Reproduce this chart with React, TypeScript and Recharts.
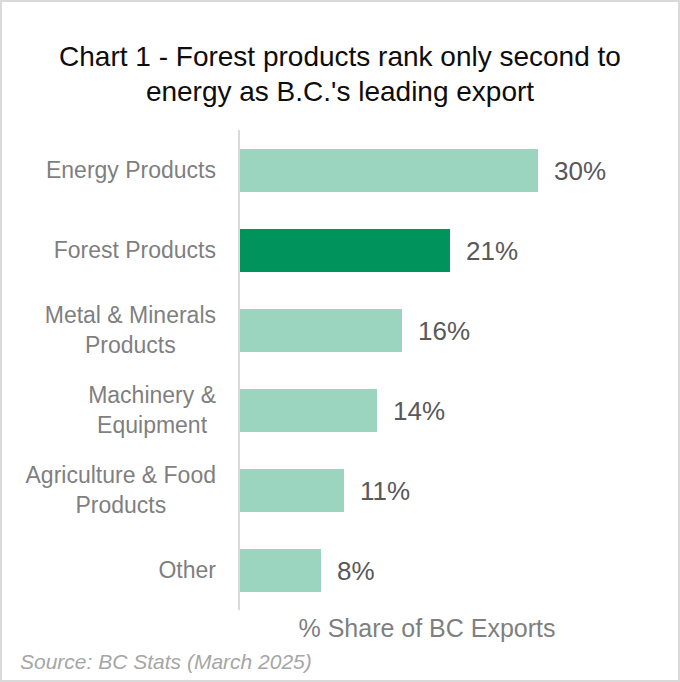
import { Bar, BarChart, Cell, LabelList, XAxis, YAxis } from "recharts";

const categories = [
  "Energy Products",
  "Forest Products",
  "Metal & Minerals\nProducts",
  "Machinery &\nEquipment",
  "Agriculture & Food\nProducts",
  "Other",
];
const shares = [29.9, 21.1, 16.3, 13.8, 10.5, 8.2];
const highlight = "Forest Products";

const data = categories.map((name, i) => ({ name, share: shares[i] }));

const FONT = "'Liberation Sans', Arial, sans-serif";
const LIGHT = "#9bd4bf";
const DARK = "#00945d";

let ctx: CanvasRenderingContext2D | null = null;
const measure = (text: string, size: number) => {
  if (!ctx) ctx = document.createElement("canvas").getContext("2d");
  if (!ctx) return text.length * size * 0.5;
  ctx.font = `${size}px ${FONT}`;
  return ctx.measureText(text).width;
};

const CategoryTick = (props: any) => {
  const { x, y, payload } = props;
  const size = 23;
  const lines = String(payload.value).split("\n");
  const widest = Math.max(...lines.map((l) => measure(l, size)));
  // labels sit 17px left of the axis, lines centred on each other
  const cx = x - 17 - widest / 2;
  const lh = 30;
  const y0 = y - ((lines.length - 1) * lh) / 2;
  return (
    <g>
      {lines.map((l, i) => (
        <text
          key={i}
          x={cx}
          y={y0 + i * lh}
          dy="0.36em"
          textAnchor="middle"
          fontSize={size}
          fontFamily={FONT}
          fill="#7f7f7f"
        >
          {l}
        </text>
      ))}
    </g>
  );
};

export default function App() {
  return (
    <div
      style={{
        position: "absolute",
        top: 0,
        left: 0,
        width: 680,
        height: 682,
        background: "#fff",
        fontFamily: FONT,
      }}
    >
      <div
        style={{
          position: "absolute",
          top: 39,
          left: 0,
          width: 680,
          textAlign: "center",
          fontSize: 28,
          lineHeight: "35px",
          color: "#0d0d0d",
        }}
      >
        Chart 1 - Forest products rank only second to
        <br />
        energy as B.C.'s leading export
      </div>
      <BarChart
        width={680}
        height={682}
        layout="vertical"
        data={data}
        margin={{ top: 130, right: 41, left: 0, bottom: 72 }}
        style={{ position: "absolute", top: 0, left: 0 }}
      >
        <XAxis type="number" domain={[0, 40]} hide />
        <YAxis
          type="category"
          dataKey="name"
          width={239}
          tickLine={false}
          tickMargin={0}
          axisLine={{ stroke: "#d9d9d9", strokeWidth: 2 }}
          tick={<CategoryTick />}
          interval={0}
        />
        <Bar dataKey="share" barSize={43} isAnimationActive={false}>
          {data.map((d) => (
            <Cell key={d.name} fill={d.name === highlight ? DARK : LIGHT} />
          ))}
          <LabelList
            dataKey="share"
            position="right"
            offset={16}
            fontSize={26}
            fontFamily={FONT}
            fill="#595959"
            formatter={(v: any) => `${Math.round(Number(v))}%`}
          />
        </Bar>
      </BarChart>
      <div
        style={{
          position: "absolute",
          top: 614,
          left: 239,
          width: 376,
          textAlign: "center",
          fontSize: 25,
          color: "#7f7f7f",
        }}
      >
        % Share of BC Exports
      </div>
      <div
        style={{
          position: "absolute",
          top: 650,
          left: 20,
          fontSize: 21,
          fontStyle: "italic",
          color: "#a6a6a6",
        }}
      >
        Source: BC Stats (March 2025)
      </div>
      <div
        style={{
          position: "absolute",
          inset: 0,
          border: "2px solid #d9d9d9",
          pointerEvents: "none",
        }}
      />
    </div>
  );
}
